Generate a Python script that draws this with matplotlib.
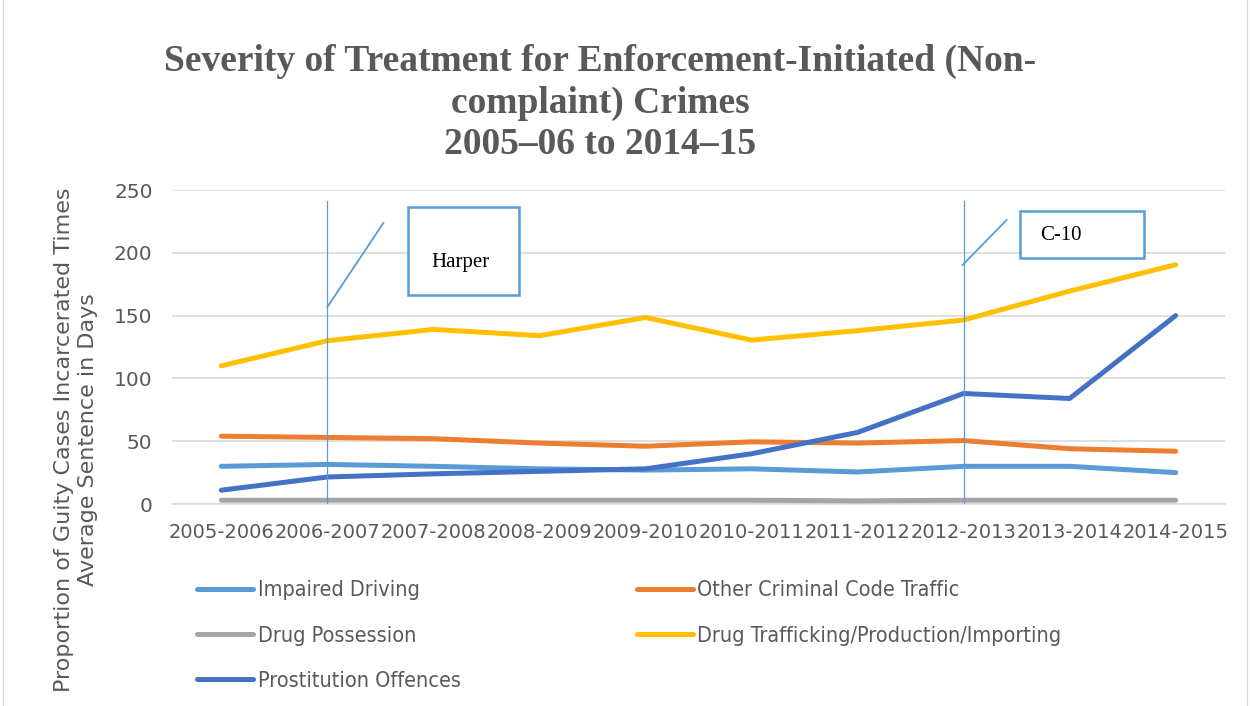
import matplotlib
matplotlib.use("Agg")
import matplotlib.pyplot as plt
from matplotlib.patches import Rectangle
from matplotlib import font_manager
from matplotlib.font_manager import FontProperties

years = ["2005-2006", "2006-2007", "2007-2008", "2008-2009", "2009-2010",
         "2010-2011", "2011-2012", "2012-2013", "2013-2014", "2014-2015"]

impaired_driving = [30, 31.5, 30, 28, 27, 28, 25.5, 30, 30, 25]
other_traffic = [54, 53, 52, 48.5, 46, 49.5, 48.5, 50.5, 44, 42]
drug_possession = [3, 3, 3, 3, 3, 3, 2.5, 3, 3, 3]
drug_trafficking = [110, 130, 139, 134, 148.5, 130.5, 138, 146.5, 169.5, 190.5]
prostitution = [11, 21.5, 24, 26, 28, 40, 57, 88, 84, 150]

series_names = ["Impaired Driving", "Other Criminal Code Traffic", "Drug Possession",
                "Drug Trafficking/Production/Importing", "Prostitution Offences"]
series_colors = ["#5B9BD5", "#ED7D31", "#A5A5A5", "#FFC000", "#4472C4"]

title_text = ("Severity of Treatment for Enforcement-Initiated (Non-\n"
              "complaint) Crimes\n2005\u201306 to 2014\u201315")
ylabel_text = "Proportion of Guity Cases Incarcerated Times\nAverage Sentence in Days"

# Pick a narrow sans face for the legend if one is installed
legend_prop = None
for f in font_manager.fontManager.ttflist:
    name = (f.name + " " + f.fname).lower()
    if ("narrow" in name or "condensed" in name) and "bold" not in name \
            and "oblique" not in name and "italic" not in name and "sans" in name:
        legend_prop = FontProperties(fname=f.fname, size=15.5)
        break
if legend_prop is None:
    legend_prop = FontProperties(family="DejaVu Sans", size=14)

serif_family = "Liberation Serif"
text_gray = "#595959"

fig = plt.figure(figsize=(12.5, 7.06), dpi=100)
ax = fig.add_axes([172 / 1250, 1 - 504 / 706, (1225 - 172) / 1250, (504 - 190) / 706])

x = list(range(len(years)))
all_series = [impaired_driving, other_traffic, drug_possession, drug_trafficking, prostitution]
lines = []
for vals, name, col in zip(all_series, series_names, series_colors):
    ln, = ax.plot(x, vals, color=col, lw=3.6, solid_capstyle="round",
                  solid_joinstyle="round", label=name, zorder=3)
    lines.append(ln)

ax.set_xlim(-0.465, 9.465)
ax.set_ylim(0, 250)
ax.set_yticks(range(0, 251, 50))
ax.set_xticks(x)
ax.set_xticklabels(years)
ax.grid(axis="y", color="#D9D9D9", lw=1.2)
ax.set_axisbelow(True)
for s in ["top", "right", "left"]:
    ax.spines[s].set_visible(False)
ax.spines["bottom"].set_color("#D9D9D9")
ax.spines["bottom"].set_linewidth(1.2)
ax.tick_params(axis="both", length=0, labelsize=14.5, colors=text_gray)
ax.tick_params(axis="x", pad=14, labelsize=14)
ax.tick_params(axis="y", pad=14)

# Title
fig.text(0.48, 1 - 103 / 706, title_text, ha="center", va="center",
         family=serif_family, weight="bold", fontsize=27, color=text_gray,
         linespacing=1.25)

# Y axis label
fig.text(76 / 1250, 1 - 440 / 706, ylabel_text, rotation=90, ha="center", va="center",
         fontsize=16, color=text_gray, linespacing=1.25)

# Event markers
ev_color = "#5B9BD5"
ax.plot([1, 1], [0, 241.5], color=ev_color, lw=0.9, zorder=4)
ax.plot([7, 7], [0, 241.5], color=ev_color, lw=0.9, zorder=4)

def px_to_data(px, py):
    return (px - 221) / 106.0, (504 - py) / 1.256

# Harper callout
x0, y0 = px_to_data(327, 307)
x1, y1 = px_to_data(383, 223)
ax.plot([x0, x1], [y0, y1], color=ev_color, lw=1.3, zorder=4)
bx0, by1 = px_to_data(408, 207)
bx1, by0 = px_to_data(519, 295)
ax.add_patch(Rectangle((bx0, by0), bx1 - bx0, by1 - by0, fill=True, fc="white",
                       ec=ev_color, lw=1.8, zorder=5, clip_on=False))
tx, ty = px_to_data(460, 263)
ax.text(tx, ty, "Harper", ha="center", va="center", family=serif_family,
        fontsize=15, color="black", zorder=6)

# C-10 callout
x0, y0 = px_to_data(962, 265)
x1, y1 = px_to_data(1006, 220)
ax.plot([x0, x1], [y0, y1], color=ev_color, lw=1.3, zorder=4)
bx0, by1 = px_to_data(1019, 211)
bx1, by0 = px_to_data(1143, 258)
ax.add_patch(Rectangle((bx0, by0), bx1 - bx0, by1 - by0, fill=True, fc="white",
                       ec=ev_color, lw=1.8, zorder=5, clip_on=False))
tx, ty = px_to_data(1039, 235)
ax.text(tx, ty, "C-10", ha="left", va="center", family=serif_family,
        fontsize=15, color="black", zorder=6)

# Legend, filled row by row (two columns)
order = [0, 2, 4, 1, 3]
leg = fig.legend(handles=[lines[i] for i in order], loc="upper left", ncol=2,
                 bbox_to_anchor=(178 / 1250, 1 - 561 / 706), frameon=False,
                 prop=legend_prop, handlelength=2.6, handleheight=0.7,
                 columnspacing=8.2, labelspacing=1.17, handletextpad=0.2)
for t in leg.get_texts():
    t.set_color(text_gray)

# Chart border
fig.patches.append(Rectangle((3 / 1250, -0.01), 1 - 6 / 1250, 1.02, transform=fig.transFigure,
                             fill=False, ec="#D9D9D9", lw=1.0))

fig.savefig("out.png", dpi=100)
